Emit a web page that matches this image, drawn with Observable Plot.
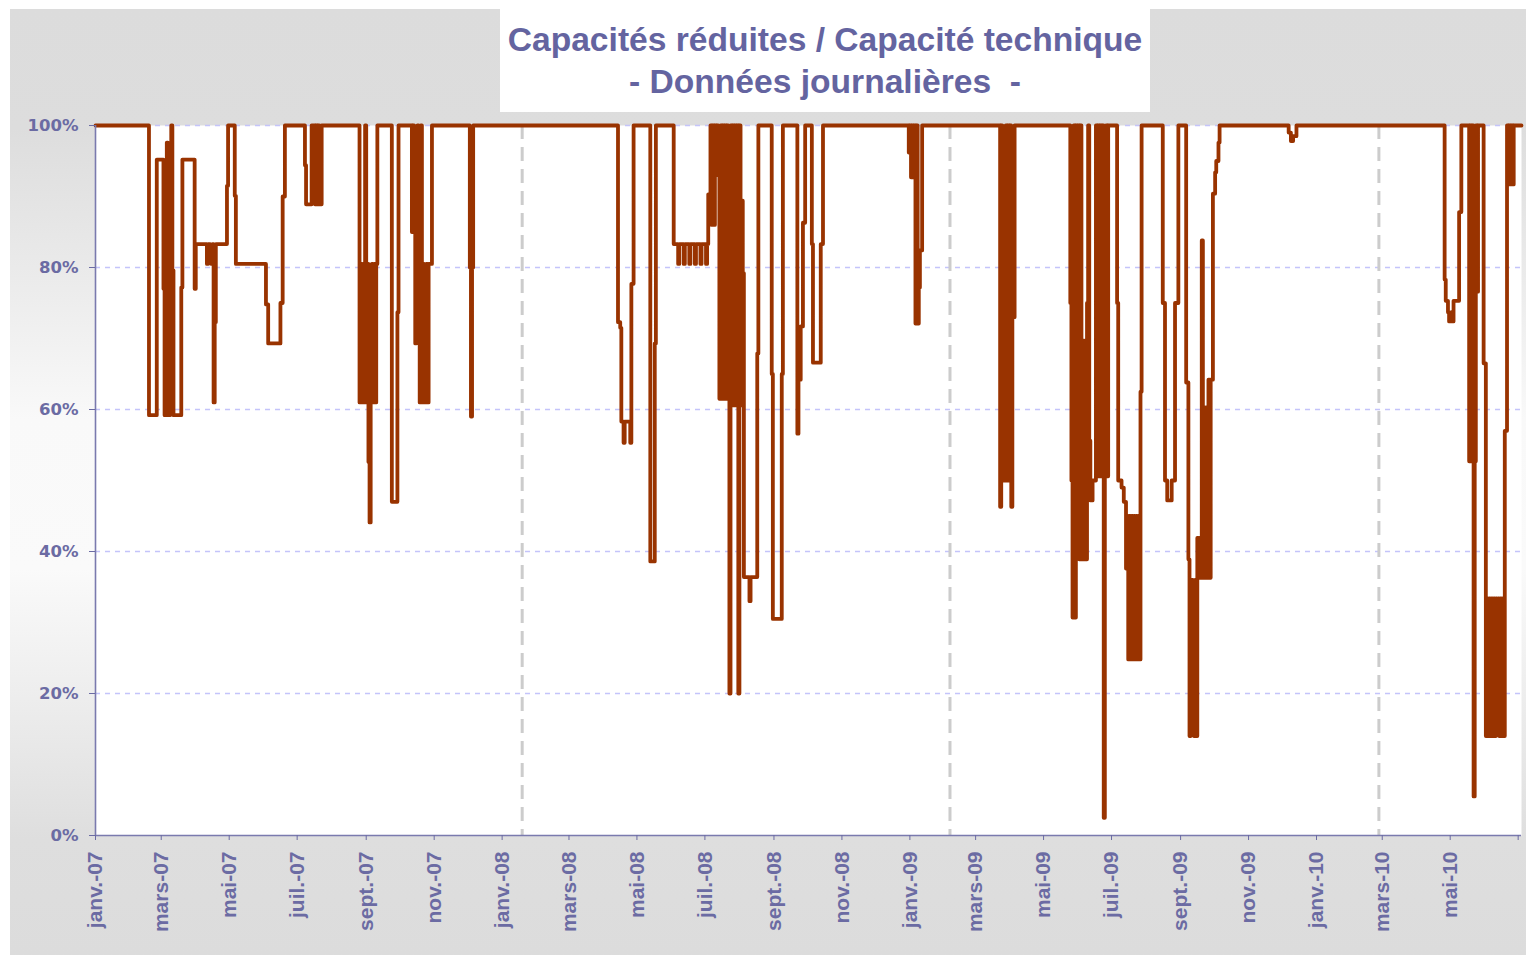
<!DOCTYPE html>
<html>
<head>
<meta charset="utf-8">
<script src="https://cdn.jsdelivr.net/npm/d3@7"></script>
<script src="https://cdn.jsdelivr.net/npm/@observablehq/plot@0.6"></script>
<style>
  html, body { margin: 0; padding: 0; background: #ffffff; }
  #page { position: relative; width: 1526px; height: 955px; overflow: hidden; }
  #panel {
    position: absolute; left: 10px; top: 9px; width: 1516px; height: 946px;
    background: linear-gradient(to bottom, #dcdcdc 0px, #dddddd 120px, #ececec 280px, #f9f9f9 410px, #fafafa 560px, #ececec 700px, #dedede 830px, #dcdcdc 946px);
  }
  #titlebox {
    position: absolute; left: 500px; top: 9px; width: 650px; height: 103px; background: #ffffff;
  }
  .tline {
    position: absolute; left: 500px; width: 650px; text-align: center;
    font-family: "Liberation Sans", Arial, sans-serif; font-weight: bold; font-size: 33.6px;
    line-height: 1; color: #6464a0; white-space: pre;
  }
  #chart { position: absolute; left: 10px; top: 9px; }
</style>
</head>
<body>
<div id="page">
  <div id="panel"></div>
  <div id="titlebox"></div>
  <div class="tline" id="t1" style="top:23px">Capacités réduites / Capacité technique</div>
  <div class="tline" id="t2" style="top:65px">- Données journalières  -</div>
  <div id="chart"></div>
</div>
<script>
// Change points of the daily series: value holds from the date until the next change
const changeDates = [
  "2007-01-01","2007-02-18","2007-02-25","2007-03-03","2007-03-04","2007-03-06","2007-03-07","2007-03-09","2007-03-10","2007-03-11",
  "2007-03-12","2007-03-19","2007-03-20","2007-03-31","2007-04-01","2007-04-11","2007-04-12","2007-04-14","2007-04-15","2007-04-16",
  "2007-04-17","2007-04-18","2007-04-19","2007-04-29","2007-04-30","2007-05-06","2007-05-07","2007-06-03","2007-06-05","2007-06-16",
  "2007-06-18","2007-06-20","2007-07-08","2007-07-09","2007-07-14","2007-07-17","2007-07-18","2007-07-19","2007-07-20","2007-07-21",
  "2007-07-23","2007-08-26","2007-08-27","2007-08-28","2007-08-29","2007-08-30","2007-08-31","2007-09-01","2007-09-02","2007-09-03",
  "2007-09-04","2007-09-05","2007-09-06","2007-09-07","2007-09-08","2007-09-09","2007-09-10","2007-09-11","2007-09-24","2007-09-29",
  "2007-09-30","2007-10-12","2007-10-13","2007-10-14","2007-10-15","2007-10-16","2007-10-17","2007-10-18","2007-10-19","2007-10-20",
  "2007-10-21","2007-10-22","2007-10-23","2007-10-25","2007-10-26","2007-10-27","2007-10-30","2007-12-03","2007-12-04","2007-12-05",
  "2007-12-06",
  "2008-04-14","2008-04-16","2008-04-17","2008-04-19","2008-04-20","2008-04-25","2008-04-26","2008-04-28","2008-05-13","2008-05-17",
  "2008-05-18","2008-06-03","2008-06-07","2008-06-08","2008-06-12","2008-06-13","2008-06-17","2008-06-18","2008-06-22","2008-06-23",
  "2008-06-27","2008-06-28","2008-07-02","2008-07-03","2008-07-04","2008-07-06","2008-07-07","2008-07-08","2008-07-09","2008-07-10",
  "2008-07-11","2008-07-12","2008-07-13","2008-07-14","2008-07-15","2008-07-16","2008-07-17","2008-07-18","2008-07-19","2008-07-20",
  "2008-07-21","2008-07-22","2008-07-23","2008-07-24","2008-07-25","2008-07-26","2008-07-27","2008-07-28","2008-07-29","2008-07-30",
  "2008-07-31","2008-08-01","2008-08-02","2008-08-03","2008-08-04","2008-08-05","2008-08-10","2008-08-11","2008-08-17","2008-08-18",
  "2008-08-30","2008-08-31","2008-09-08","2008-09-09","2008-09-22","2008-09-23","2008-09-25","2008-09-27","2008-09-29","2008-10-05",
  "2008-10-06","2008-10-13","2008-10-15","2008-12-31",
  "2009-01-01","2009-01-02","2009-01-03","2009-01-04","2009-01-05","2009-01-06","2009-01-07","2009-01-08","2009-01-09","2009-01-10",
  "2009-01-12","2009-03-23","2009-03-24","2009-03-25","2009-03-26","2009-03-27","2009-03-28","2009-03-29","2009-03-30","2009-03-31",
  "2009-04-01","2009-04-02","2009-04-03","2009-04-05","2009-05-25","2009-05-26","2009-05-27","2009-05-28","2009-05-29","2009-05-30",
  "2009-05-31","2009-06-01","2009-06-02","2009-06-03","2009-06-04","2009-06-05","2009-06-06","2009-06-07","2009-06-08","2009-06-09",
  "2009-06-10","2009-06-11","2009-06-12","2009-06-14","2009-06-17","2009-06-18","2009-06-19","2009-06-20","2009-06-21","2009-06-22",
  "2009-06-23","2009-06-24","2009-06-25","2009-06-26","2009-06-27","2009-06-28","2009-07-06","2009-07-07","2009-07-10","2009-07-12",
  "2009-07-14","2009-07-15","2009-07-16","2009-07-17","2009-07-18","2009-07-19","2009-07-20","2009-07-21","2009-07-22","2009-07-23",
  "2009-07-24","2009-07-25","2009-07-26","2009-07-27","2009-07-28","2009-08-16","2009-08-18","2009-08-20","2009-08-24","2009-08-27",
  "2009-08-30","2009-09-06","2009-09-08","2009-09-09","2009-09-10","2009-09-11","2009-09-12","2009-09-13","2009-09-14","2009-09-15",
  "2009-09-16","2009-09-17","2009-09-18","2009-09-19","2009-09-20","2009-09-21","2009-09-22","2009-09-23","2009-09-24","2009-09-25",
  "2009-09-26","2009-09-27","2009-09-28","2009-09-30","2009-10-02","2009-10-03","2009-10-05","2009-10-06","2009-12-07","2009-12-09",
  "2009-12-11","2009-12-14",
  "2010-04-26","2010-04-27","2010-04-29","2010-04-30","2010-05-02","2010-05-03","2010-05-04","2010-05-09","2010-05-11","2010-05-18",
  "2010-05-19","2010-05-20","2010-05-21","2010-05-22","2010-05-23","2010-05-24","2010-05-25","2010-05-26","2010-05-31","2010-06-02",
  "2010-06-03","2010-06-04","2010-06-05","2010-06-06","2010-06-07","2010-06-08","2010-06-09","2010-06-10","2010-06-11","2010-06-12",
  "2010-06-13","2010-06-14","2010-06-15","2010-06-16","2010-06-17","2010-06-18","2010-06-19","2010-06-21","2010-06-22","2010-06-23",
  "2010-06-24","2010-06-25","2010-06-26","2010-06-27","2010-07-04"
];
const changeValues = [
  100,59.2,95.2,77,59.2,97.6,59.2,97.6,100,79.6,
  59.2,77.2,95.2,77,83.3,80.5,83.3,82,80.5,83.3,
  61,72.3,83.3,91.5,100,90.1,80.5,74.8,69.3,75,
  90,100,94.4,88.9,100,88.9,100,88.9,100,88.9,
  100,61,80.5,61,80.5,61,100,61,80.5,52.6,
  44.1,61,80.5,61,80.5,61,80.5,100,47,73.7,
  100,85,100,85,69.3,85,100,85,61,100,
  61,80.5,61,80.5,61,80.5,100,80,59,80,
  100,
  72.3,71.5,58.3,55.3,58.3,55.3,77.7,100,38.6,69.3,
  100,83.3,80.5,83.3,80.5,83.3,80.5,83.3,80.5,83.3,
  80.5,83.3,80.5,83.3,90.3,100,86,100,86,100,
  93,100,93,61.5,100,61.5,100,61.5,100,61.5,
  100,61.5,20,100,60.6,100,60.6,100,60.6,100,
  20,100,60.6,89.4,79.2,36.4,33,36.4,67.9,100,
  65,30.5,65,100,56.6,64.2,71.7,86.3,100,83.3,
  66.6,83.3,100,96.2,
  100,92.7,100,92.7,100,72.1,100,72.1,77.2,82.4,
  100,46.3,100,50,96.6,50,100,50,100,50,
  100,46.3,73,100,75,50,30.7,100,30.7,100,
  50,100,38.9,100,38.9,69.7,38.9,69.7,38.9,75,
  100,55.6,47.2,50,100,50.6,100,50.6,100,50.6,
  100,2.5,50.6,100,50.6,100,75,50,49,47,
  37.6,45,24.8,45,24.8,45,24.8,45,24.8,45,
  24.8,45,24.8,62.5,100,75,50,47.2,50,75,
  100,63.8,38.9,14,19.6,36,19.6,14,36,14,
  41.9,36.3,41.9,36.3,83.8,36.3,60.3,36.3,60.3,36.3,
  64.2,36.3,64.2,90.4,93.4,95,97.6,100,99,97.8,
  98.5,100,
  78.3,75.3,73.7,72.4,73.7,72.4,75.3,87.8,100,52.7,
  100,52.7,100,5.5,52.7,100,76.6,100,66.5,14,
  33.4,14,33.4,14,33.4,14,33.4,14,33.4,23.5,
  33.4,14,33.4,14,33.4,14,57,100,91.7,100,
  91.7,100,91.7,100,100
];
const tickDates = [
  "2007-01-01","2007-03-01","2007-05-01","2007-07-01","2007-09-01","2007-11-01",
  "2008-01-01","2008-03-01","2008-05-01","2008-07-01","2008-09-01","2008-11-01",
  "2009-01-01","2009-03-01","2009-05-01","2009-07-01","2009-09-01","2009-11-01",
  "2010-01-01","2010-03-01","2010-05-01","2010-07-01"
];
const tickLabels = [
  "janv.-07","mars-07","mai-07","juil.-07","sept.-07","nov.-07",
  "janv.-08","mars-08","mai-08","juil.-08","sept.-08","nov.-08",
  "janv.-09","mars-09","mai-09","juil.-09","sept.-09","nov.-09",
  "janv.-10","mars-10","mai-10",""
];
const yTicks = [0, 20, 40, 60, 80, 100];
const separatorDates = ["2008-01-19", "2009-02-06", "2010-02-26"];
const xDomain = ["2007-01-01", "2010-07-04"];

const parse = d3.utcParse("%Y-%m-%d");
const series = changeDates.map((d, i) => ({date: parse(d), value: changeValues[i]}));
const ticks = tickDates.map(parse);
const labelMap = new Map(ticks.map((d, i) => [+d, tickLabels[i]]));

const axisColor = "#6b6ba3";
const chart = Plot.plot({
  width: 1516,
  height: 946,
  marginLeft: 85,
  marginTop: 116,
  marginRight: 5,
  marginBottom: 120,
  style: {background: "transparent", overflow: "visible"},
  x: {type: "utc", domain: xDomain.map(parse)},
  y: {domain: [0, 100]},
  marks: [
    Plot.frame({fill: "#ffffff", stroke: null}),
    Plot.gridY(yTicks.filter(d => d > 0), {stroke: "#c4c4fa", strokeOpacity: 1, strokeWidth: 1.4, strokeDasharray: "5,5"}),
    Plot.ruleX(separatorDates.map(parse), {stroke: "#cccccc", strokeWidth: 3, strokeDasharray: "14,8"}),
    Plot.line(series, {x: "date", y: "value", curve: "step-after", stroke: "#993300", strokeWidth: 3.8}),
    Plot.ruleY([0], {stroke: "#7a7aae", strokeWidth: 1.6}),
    Plot.ruleX([parse(xDomain[0])], {stroke: "#7a7aae", strokeWidth: 1.6}),
    Plot.axisY(yTicks, {
      anchor: "left", label: null, tickSize: 6, tickPadding: 11,
      tickFormat: d => d + "%", color: axisColor,
      fontSize: 16.5, fontWeight: "bold", fontFamily: "DejaVu Sans, sans-serif"
    }),
    Plot.axisX(ticks, {
      anchor: "bottom", label: null, tickSize: 5, tickPadding: 11, tickRotate: -90,
      tickFormat: d => labelMap.get(+d), color: axisColor,
      fontSize: 21, fontWeight: "bold", fontFamily: "Liberation Sans, Arial, sans-serif"
    })
  ]
});
document.getElementById("chart").appendChild(chart);
</script>
</body>
</html>
